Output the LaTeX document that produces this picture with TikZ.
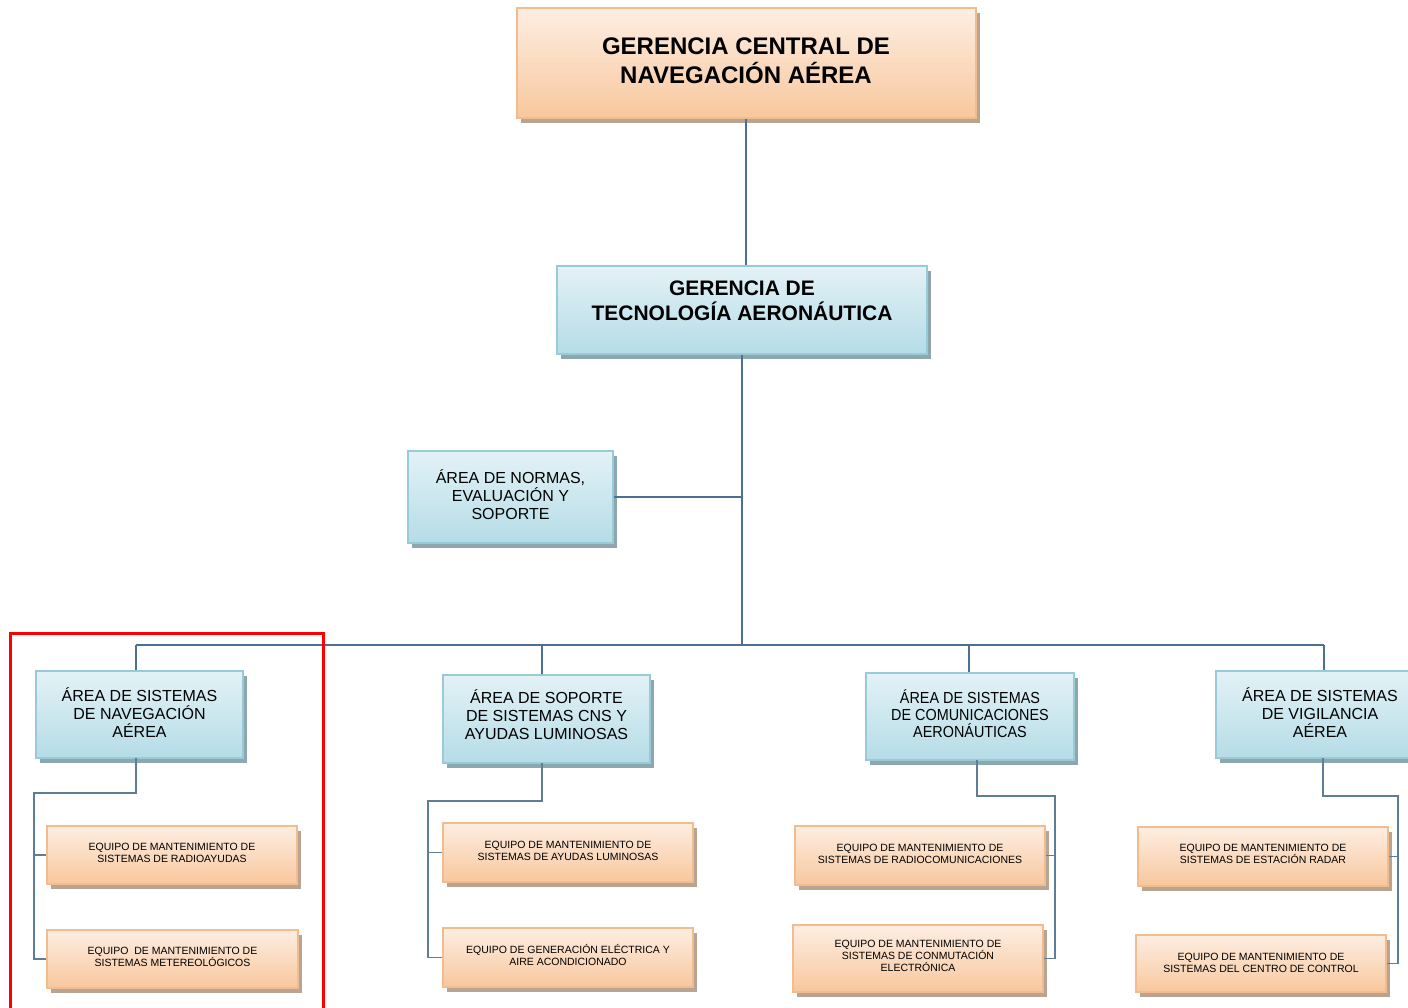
\documentclass[tikz,border=0pt]{standalone}
\usepackage{fontspec}
\setmainfont{Liberation Sans}
\newfontfamily\narrowsans[FakeStretch=0.9]{Liberation Sans}
\usetikzlibrary{shadows}

\definecolor{orTop}{HTML}{FDEEE2}
\definecolor{orBot}{HTML}{F8C79D}
\definecolor{orLine}{HTML}{F2BC8E}
\definecolor{orShadow}{HTML}{B7A492}
\definecolor{blTop}{HTML}{E3F2F6}
\definecolor{blBot}{HTML}{B5DCE7}
\definecolor{blLine}{HTML}{98CAD8}
\definecolor{blShadow}{HTML}{8EA7AF}
\definecolor{wire}{HTML}{4C7093}
\definecolor{wireThin}{HTML}{5E7D96}

\tikzset{
  x=1pt, y=-1pt,
  box/.style={draw, line width=2pt, inner sep=0pt,
    general shadow={fill=#1, shadow xshift=4pt, shadow yshift=-5pt}},
  orangebox/.style={box=orShadow, draw=orLine, top color=orTop, bottom color=orBot},
  bluebox/.style={box=blShadow, draw=blLine, top color=blTop, bottom color=blBot},
  label text/.style={align=center, inner sep=0pt, yshift=#1},
  headfont/.style={label text=#1, font=\fontsize{24}{29}\selectfont\bfseries},
  subheadfont/.style={label text=#1, font=\fontsize{21}{25}\selectfont\bfseries},
  areafont/.style={label text=#1, font=\fontsize{16}{18}\selectfont},
  narrowareafont/.style={label text=#1, font=\fontsize{16}{17}\selectfont\narrowsans},
  teamfont/.style={label text=#1, font=\fontsize{10.5}{12}\selectfont},
  wireline/.style={draw=wire, line width=1.6pt},
  thinwire/.style={draw=wireThin, line width=1.1pt},
}

% #1 box style, #2 name, #3 centre, #4 width, #5 height, #6 text style, #7 text
\newcommand{\orgunit}[7]{%
  \node[#1, minimum width=#4, minimum height=#5] (#2) at #3 {};
  \node[#6] (#2-text) at (#2) {#7};}

\begin{document}
\begin{tikzpicture}
\useasboundingbox (0,0) rectangle (1408,1008);
\fill[white] (0,0) rectangle (1408,1008);

% management levels
\orgunit{orangebox}{gcna}{(746,63)}{459pt}{110pt}{headfont=2pt}
  {GERENCIA CENTRAL DE\\NAVEGACIÓN AÉREA}
\orgunit{bluebox}{gta}{(742,310)}{370pt}{88pt}{subheadfont=9.5pt}
  {GERENCIA DE\\TECNOLOGÍA AERONÁUTICA}
\orgunit{bluebox}{nes}{(510.5,497)}{205pt}{92pt}{areafont=2pt}
  {ÁREA DE NORMAS,\\EVALUACIÓN Y\\SOPORTE}

% areas
\orgunit{bluebox}{a1}{(139.5,714.5)}{207pt}{87pt}{areafont=2pt}
  {ÁREA DE SISTEMAS\\DE NAVEGACIÓN\\AÉREA}
\orgunit{bluebox}{a2}{(546.5,719)}{207pt}{88pt}{areafont=4.5pt}
  {ÁREA DE SOPORTE\\DE SISTEMAS CNS Y\\AYUDAS LUMINOSAS}
\orgunit{bluebox}{a3}{(970,716.5)}{208pt}{87pt}{narrowareafont=2.5pt}
  {ÁREA DE SISTEMAS\\DE COMUNICACIONES\\AERONÁUTICAS}
\orgunit{bluebox}{a4}{(1320,714.5)}{208pt}{87pt}{areafont=2pt}
  {ÁREA DE SISTEMAS\\DE VIGILANCIA\\AÉREA}

% maintenance teams
\orgunit{orangebox}{e1a}{(172,855)}{250pt}{58pt}{teamfont=2pt}
  {EQUIPO DE MANTENIMIENTO DE\\SISTEMAS DE RADIOAYUDAS}
\orgunit{orangebox}{e1b}{(172.5,959)}{251pt}{58pt}{teamfont=2pt}
  {EQUIPO\ \ DE MANTENIMIENTO DE\\SISTEMAS METEREOLÓGICOS}
\orgunit{orangebox}{e2a}{(568,852.5)}{250pt}{59pt}{teamfont=2pt}
  {EQUIPO DE MANTENIMIENTO DE\\SISTEMAS DE AYUDAS LUMINOSAS}
\orgunit{orangebox}{e2b}{(568,957.5)}{250pt}{59pt}{teamfont=2.5pt}
  {EQUIPO DE GENERACIÓN ELÉCTRICA Y\\AIRE ACONDICIONADO}
\orgunit{orangebox}{e3a}{(920,855.5)}{250pt}{59pt}{teamfont=1.5pt}
  {EQUIPO DE MANTENIMIENTO DE\\SISTEMAS DE RADIOCOMUNICACIONES}
\orgunit{orangebox}{e3b}{(918,958.5)}{250pt}{67pt}{teamfont=2.5pt}
  {EQUIPO DE MANTENIMIENTO DE\\SISTEMAS DE CONMUTACIÓN\\ELECTRÓNICA}
\orgunit{orangebox}{e4a}{(1263,856.5)}{250pt}{59pt}{teamfont=3pt}
  {EQUIPO DE MANTENIMIENTO DE\\SISTEMAS DE ESTACIÓN RADAR}
\orgunit{orangebox}{e4b}{(1261,963.5)}{250pt}{57pt}{teamfont=0.5pt}
  {EQUIPO DE MANTENIMIENTO DE\\SISTEMAS DEL CENTRO DE CONTROL}

% junction points
\coordinate (bus) at (742,645);
\coordinate (d1) at (136,645);
\coordinate (d2) at (542,645);
\coordinate (d3) at (969,645);
\coordinate (d4) at (1324,645);
\coordinate (s1) at (136,758);
\coordinate (s2) at (542,763);
\coordinate (s3) at (977,760);
\coordinate (s4) at (1323,758);
\coordinate (j1) at (34,793);
\coordinate (j2) at (428,801);
\coordinate (j3) at (1055,796);
\coordinate (j4) at (1398,796);

% upper connectors
\begin{scope}[wireline]
  \draw (gcna.south) -- (gcna.south |- gta.north);
  \draw (gta.south) -- (bus);
  \draw (nes.east) -- (nes.east -| bus);
  \draw (d1) -- (d4);
  \draw (d1) -- (d1 |- a1.north);
  \draw (d2) -- (d2 |- a2.north);
  \draw (d3) -- (d3 |- a3.north);
  \draw (d4) -- (d4 |- a4.north);
\end{scope}

% lower connectors
\begin{scope}[thinwire]
  \draw (s1) |- (j1) |- (e1b.west);
  \draw (e1a.west -| j1) -- (e1a.west);
  \draw (s2) |- (j2) |- (e2b.west);
  \draw (e2a.west -| j2) -- (e2a.west);
  \draw (s3) |- (j3) |- (e3b.east);
  \draw (e3a.east -| j3) -- (e3a.east);
  \draw (s4) |- (j4) |- (e4b.east);
  \draw (e4a.east -| j4) -- (e4a.east);
\end{scope}

% highlight frame
\draw[red, line width=3pt] (10.5,633.5) rectangle (323.5,1012);
\end{tikzpicture}
\end{document}
